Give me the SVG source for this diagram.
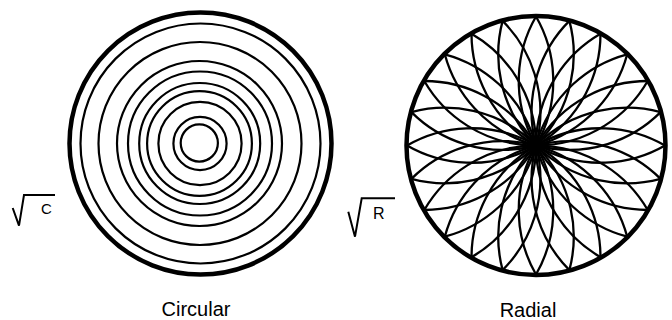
<svg xmlns="http://www.w3.org/2000/svg" width="672" height="320" viewBox="0 0 672 320">
<style>
.thin{fill:none;stroke:#000;stroke-width:2.2}
.thick{fill:none;stroke:#000;stroke-width:4.5}
.arc{fill:none;stroke:#000;stroke-width:2.3}
.rad{fill:none;stroke:#000;stroke-width:2;stroke-linejoin:miter}
.lbl{font-family:"Liberation Sans",Arial,sans-serif;fill:#000}
</style>
<rect width="672" height="320" fill="#fff"/>
<g id="circular">
<circle class="thick" cx="200.5" cy="143.5" r="131"/>
<circle class="thin" cx="200.5" cy="143.5" r="120"/>
<circle class="thin" cx="200" cy="143.5" r="101.5"/>
<circle class="thin" cx="199.5" cy="143.5" r="82.5"/>
<circle class="thin" cx="200" cy="143.5" r="72"/>
<circle class="thin" cx="199.7" cy="143.5" r="60.5"/>
<circle class="thin" cx="199.5" cy="143.5" r="52.4"/>
<circle class="thin" cx="200" cy="143.5" r="41.6"/>
<circle class="thin" cx="200" cy="143.5" r="26.6"/>
<circle class="thin" cx="199.3" cy="143" r="18.6"/>
</g>
<g id="radial" transform="translate(536,145.5)">
<g id="arcs">
<path class="arc" id="a0" d="M 64.5 111.7 A 129 129 0 0 1 64.5 -111.7"/>
<use href="#a0" transform="rotate(15)"/>
<use href="#a0" transform="rotate(30)"/>
<use href="#a0" transform="rotate(45)"/>
<use href="#a0" transform="rotate(60)"/>
<use href="#a0" transform="rotate(75)"/>
<use href="#a0" transform="rotate(90)"/>
<use href="#a0" transform="rotate(105)"/>
<use href="#a0" transform="rotate(120)"/>
<use href="#a0" transform="rotate(135)"/>
<use href="#a0" transform="rotate(150)"/>
<use href="#a0" transform="rotate(165)"/>
<use href="#a0" transform="rotate(180)"/>
<use href="#a0" transform="rotate(195)"/>
<use href="#a0" transform="rotate(210)"/>
<use href="#a0" transform="rotate(225)"/>
<use href="#a0" transform="rotate(240)"/>
<use href="#a0" transform="rotate(255)"/>
<use href="#a0" transform="rotate(270)"/>
<use href="#a0" transform="rotate(285)"/>
<use href="#a0" transform="rotate(300)"/>
<use href="#a0" transform="rotate(315)"/>
<use href="#a0" transform="rotate(330)"/>
<use href="#a0" transform="rotate(345)"/>
</g>
<circle class="thick" cx="0" cy="0" r="129.5"/>
</g>
<g id="label-c">
<path class="rad" d="M 12.7 208 L 19 225.7 L 24 195 L 55 195"/>
<text class="lbl" x="41" y="213.5" font-size="15">C</text>
</g>
<g id="label-r">
<path class="rad" d="M 348.3 211.7 L 355 236.7 L 361.7 198.3 L 395 198.3"/>
<text class="lbl" x="373" y="218.5" font-size="16">R</text>
</g>
<text class="lbl" x="196" y="316" font-size="20" text-anchor="middle">Circular</text>
<text class="lbl" x="528" y="316.5" font-size="20" text-anchor="middle">Radial</text>
</svg>
